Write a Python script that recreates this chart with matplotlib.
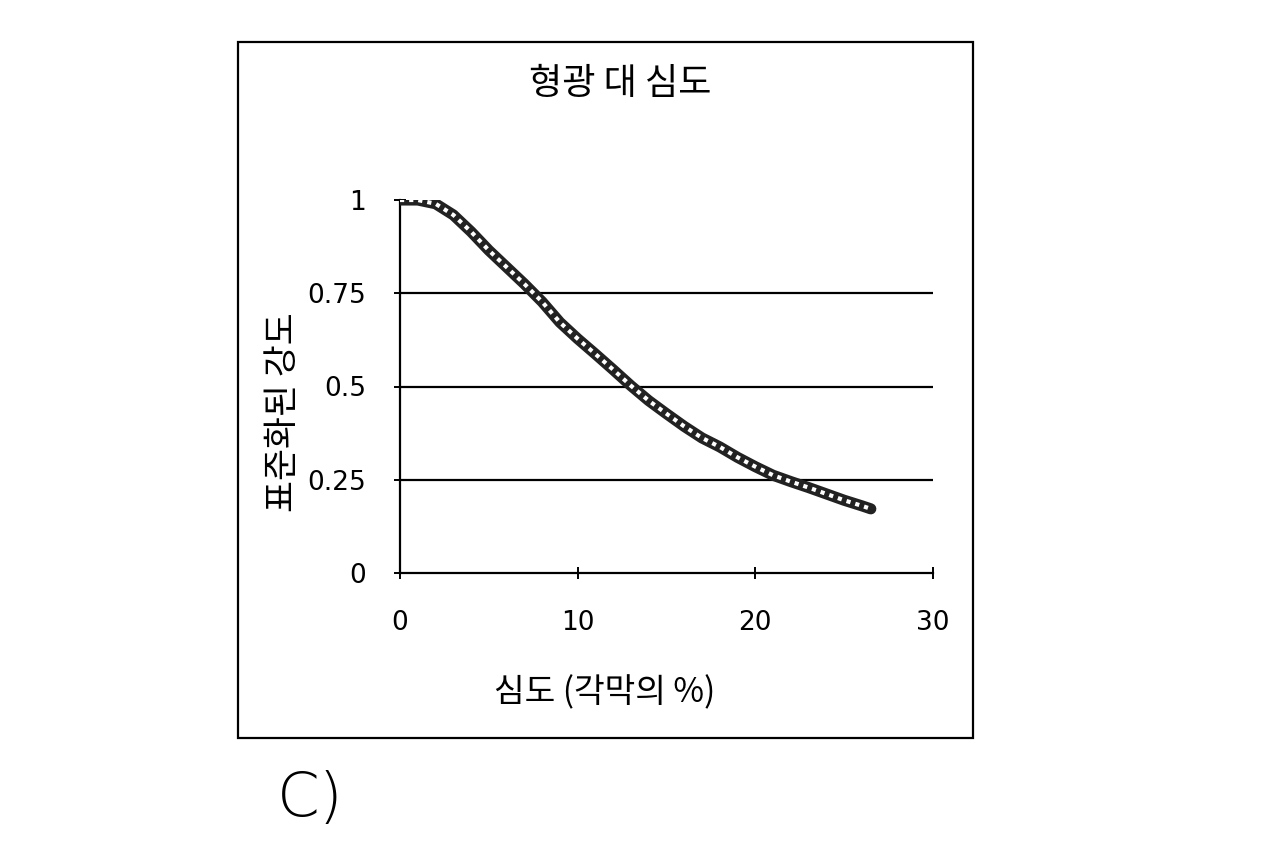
import numpy as np
import matplotlib.pyplot as plt
from matplotlib.patches import Rectangle

plt.rcParams['font.family'] = ['Noto Sans CJK KR', 'DejaVu Sans']

# =========================
# Data
# =========================
depth = [0, 1, 2, 3, 4, 5, 6, 7, 8, 9, 10, 11, 12, 13, 14, 15, 16, 17,
         18, 19, 20, 21, 22, 23, 24, 25, 26, 26.5]
intensity = [1.0, 1.0, 0.99, 0.96, 0.915, 0.865, 0.82, 0.775, 0.727, 0.672,
             0.628, 0.587, 0.545, 0.502, 0.462, 0.427, 0.393, 0.362, 0.338, 0.31,
             0.285, 0.262, 0.245, 0.229, 0.212, 0.195, 0.18, 0.172]

x_ticks = [0, 10, 20, 30]
y_ticks = [0, 0.25, 0.5, 0.75, 1]
y_tick_labels = ["0", "0.25", "0.5", "0.75", "1"]
grid_levels = [0.25, 0.5, 0.75]

title = "형광 대 심도"
x_label = "심도 (각막의 %)"
y_label = "표준화된 강도"

# =========================
# Figure
# =========================
fig = plt.figure(figsize=(12.68, 8.5), dpi=100)
fig.patch.set_facecolor("white")

# outer frame
fig.patches.append(Rectangle((238 / 1268, 1 - 738 / 850), 735 / 1268, 696 / 850,
                             transform=fig.transFigure, fill=False,
                             edgecolor="black", linewidth=1.6))

ax = fig.add_axes([400 / 1268, 1 - 573 / 850, 533 / 1268, 373 / 850])
ax.set_xlim(0, 30)
ax.set_ylim(0, 1)

for g in grid_levels:
    ax.axhline(g, color="black", linewidth=1.6, zorder=1)

ax.plot(depth, intensity, color="#222222", linewidth=8, solid_capstyle="round", zorder=3)
ax.plot(depth, intensity, color="white", linewidth=3, dashes=(1.0, 1.2), zorder=4)

for s in ["top", "right"]:
    ax.spines[s].set_visible(False)
for s in ["left", "bottom"]:
    ax.spines[s].set_linewidth(1.6)

ax.set_xticks(x_ticks)
ax.set_yticks(y_ticks)
ax.set_yticklabels(y_tick_labels)
ax.tick_params(axis="both", direction="inout", length=9, width=1.4,
               labelsize=19, colors="black")
ax.tick_params(axis="x", pad=22)
ax.tick_params(axis="y", pad=20)
for lab in ax.get_xticklabels() + ax.get_yticklabels():
    lab.set_family("DejaVu Sans")

fig.text(620 / 1268, 1 - 84 / 850, title, ha="center", va="center", fontsize=26)
fig.text(605 / 1268, 1 - 693 / 850, x_label, ha="center", va="center", fontsize=24)
fig.text(283 / 1268, 1 - 412 / 850, y_label, ha="center", va="center",
         fontsize=25, rotation=90)
fig.text(310 / 1268, 1 - 800 / 850, "C)", ha="center", va="center",
         fontsize=44, family="DejaVu Sans", fontweight="light")

plt.savefig("out.png", dpi=100)
